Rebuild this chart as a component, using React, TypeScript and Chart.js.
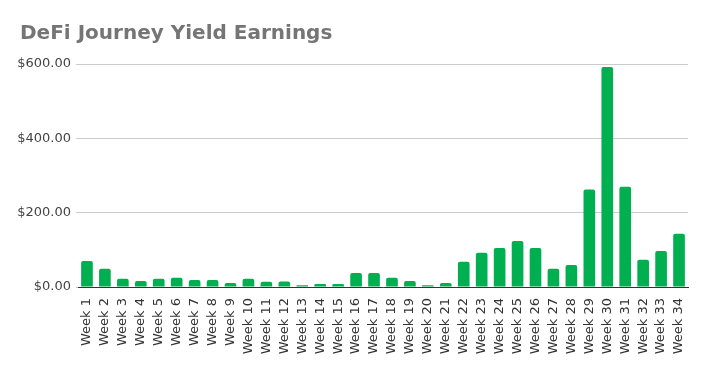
import React, { useEffect, useRef } from "react";
import { Chart, registerables } from "chart.js";

Chart.register(...registerables);

const TITLE = "DeFi Journey Yield Earnings";
const weeks: string[] = [
  "Week 1", "Week 2", "Week 3", "Week 4", "Week 5", "Week 6", "Week 7", "Week 8", "Week 9", "Week 10",
  "Week 11", "Week 12", "Week 13", "Week 14", "Week 15", "Week 16", "Week 17", "Week 18", "Week 19", "Week 20",
  "Week 21", "Week 22", "Week 23", "Week 24", "Week 25", "Week 26", "Week 27", "Week 28", "Week 29", "Week 30",
  "Week 31", "Week 32", "Week 33", "Week 34",
];
const earnings: number[] = [
  70, 49, 22, 16, 22, 25, 19, 19, 11, 22,
  14, 15, 5, 8, 8, 38, 38, 25, 16, 5,
  11, 68, 92, 105, 124, 105, 49, 59, 262, 592,
  270, 73, 97, 143,
];
const yTicks: number[] = [0, 200, 400, 600];

const titlePlugin = {
  id: "leftTitle",
  afterDraw(chart: any) {
    const ctx = chart.ctx;
    ctx.save();
    ctx.font = "bold 20px 'DejaVu Sans'";
    ctx.fillStyle = "#757575";
    ctx.textAlign = "left";
    ctx.textBaseline = "alphabetic";
    ctx.fillText(TITLE, 20, 39);
    ctx.restore();
  },
};

export default function App() {
  const ref = useRef<HTMLCanvasElement | null>(null);
  useEffect(() => {
    if (!ref.current) return;
    const chart = new Chart(ref.current, {
      type: "bar",
      data: {
        labels: weeks,
        datasets: [
          {
            label: "Earnings",
            data: earnings,
            backgroundColor: "#00B050",
            borderRadius: 2,
            borderSkipped: "bottom",
            barPercentage: 0.65,
            categoryPercentage: 1,
          },
        ],
      },
      options: {
        animation: false,
        responsive: true,
        maintainAspectRatio: false,
        layout: { padding: { top: 64, right: 18, bottom: 0, left: 0 } },
        plugins: {
          legend: { display: false },
          title: { display: false },
          tooltip: { enabled: false },
        },
        scales: {
          x: {
            grid: { display: false },
            border: { display: true, color: "#333333", width: 1 },
            ticks: {
              color: "#333333",
              font: { family: "'DejaVu Sans'", size: 13 },
              minRotation: 90,
              maxRotation: 90,
              autoSkip: false,
              padding: 3,
            },
            afterFit(scale: any) {
              scale.height = 80;
            },
          },
          y: {
            min: 0,
            max: 600,
            afterBuildTicks(scale: any) {
              scale.ticks = yTicks.map((v) => ({ value: v }));
            },
            grid: { color: "#cccccc", tickLength: 2, drawTicks: true },
            border: { display: false },
            ticks: {
              color: "#444444",
              font: { family: "'DejaVu Sans'", size: 13 },
              padding: 5,
              callback: (v: any) => "$" + Number(v).toFixed(2),
            },
            afterFit(scale: any) {
              scale.width = 78;
            },
          },
        },
      },
      plugins: [titlePlugin],
    });
    return () => chart.destroy();
  }, []);
  return (
    <div style={{ position: "fixed", left: 0, top: 0, width: 706, height: 367, background: "#fff" }}>
      <canvas ref={ref} />
    </div>
  );
}
